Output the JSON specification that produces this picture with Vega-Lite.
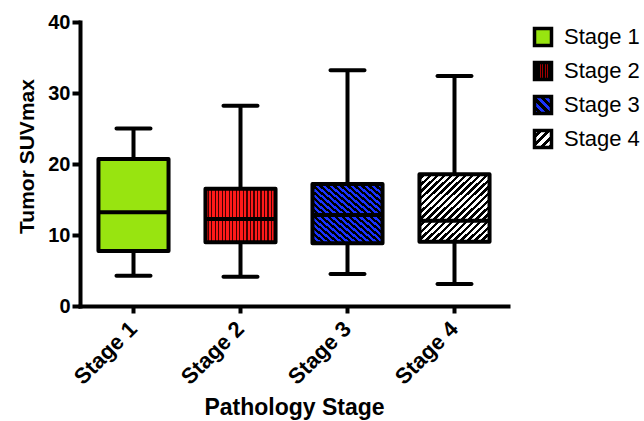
{
  "$schema": "https://vega.github.io/schema/vega-lite/v6.json",
  "width": 428,
  "height": 284,
  "autosize": {"type": "none"},
  "padding": {"left": 80, "top": 22, "right": 136, "bottom": 115},
  "background": "white",
  "config": {
    "view": {"stroke": null},
    "font": "Liberation Sans",
    "axis": {
      "domainColor": "black", "domainWidth": 4, "domainCap": "square",
      "tickColor": "black", "tickWidth": 4, "grid": false,
      "labelColor": "black", "labelFont": "Liberation Sans", "labelFontWeight": "bold", "labelFontSize": 20,
      "titleColor": "black", "titleFont": "Liberation Sans", "titleFontWeight": "bold"
    }
  },
  "data": {
    "values": [
      {"stage": "Stage 1", "min": 4.27, "q1": 7.75, "median": 13.2, "q3": 20.7, "max": 25.0},
      {"stage": "Stage 2", "min": 4.13, "q1": 8.97, "median": 12.25, "q3": 16.5, "max": 28.2},
      {"stage": "Stage 3", "min": 4.5, "q1": 8.83, "median": 12.8, "q3": 17.2, "max": 33.2},
      {"stage": "Stage 4", "min": 3.1, "q1": 9.06, "median": 12.0, "q3": 18.55, "max": 32.4}
    ]
  },
  "encoding": {
    "x": {
      "field": "stage", "type": "nominal",
      "scale": {"domain": ["Stage 1", "Stage 2", "Stage 3", "Stage 4"], "paddingInner": 0, "paddingOuter": 0},
      "axis": {"title": "Pathology Stage", "titleFontSize": 23, "titlePadding": 8, "labelAngle": -45, "labelAlign": "right", "labelBaseline": "middle", "labelFontSize": 22, "labelPadding": 12, "tickSize": 7, "bandPosition": 0.5}
    }
  },
  "layer": [
    {
      "mark": {"type": "rule", "strokeWidth": 4, "color": "black"},
      "encoding": {
        "y": {"field": "min", "type": "quantitative", "title": "Tumor SUVmax", "scale": {"domain": [0, 40], "nice": false},
          "axis": {"values": [0, 10, 20, 30, 40], "tickSize": 8, "labelPadding": 2, "titleFontSize": 21, "titlePadding": 10, "titleY": 134}},
        "y2": {"field": "max"}
      }
    },
    {
      "mark": {"type": "tick", "size": 38, "thickness": 4, "color": "black", "opacity": 1, "cornerRadius": 2},
      "encoding": {"y": {"field": "min", "type": "quantitative", "title": "Tumor SUVmax"}}
    },
    {
      "mark": {"type": "tick", "size": 38, "thickness": 4, "color": "black", "opacity": 1, "cornerRadius": 2},
      "encoding": {"y": {"field": "max", "type": "quantitative", "title": "Tumor SUVmax"}}
    },
    {
      "transform": [{"filter": "datum.stage === 'Stage 1'"}],
      "mark": {"type": "bar", "width": {"band": 0.655}, "stroke": "black", "strokeWidth": 4, "strokeJoin": "round", "opacity": 1, "fill": "#98e410"},
      "encoding": {"y": {"field": "q1", "type": "quantitative", "title": "Tumor SUVmax"}, "y2": {"field": "q3"}}
    },
    {
      "transform": [{"filter": "datum.stage === 'Stage 2'"}],
      "mark": {"type": "bar", "width": {"band": 0.655}, "stroke": "black", "strokeWidth": 4, "strokeJoin": "round", "opacity": 1,
        "fill": {"gradient": "linear", "x1": 0, "y1": 0, "x2": 1, "y2": 0, "stops": [
          {"offset": 0, "color": "#ff1a1a"}, {"offset": 0.035, "color": "#ff1a1a"}, {"offset": 0.035, "color": "#400000"}, {"offset": 0.05, "color": "#400000"},
          {"offset": 0.05, "color": "#ff1a1a"}, {"offset": 0.085, "color": "#ff1a1a"}, {"offset": 0.085, "color": "#400000"}, {"offset": 0.1, "color": "#400000"},
          {"offset": 0.1, "color": "#ff1a1a"}, {"offset": 0.135, "color": "#ff1a1a"}, {"offset": 0.135, "color": "#400000"}, {"offset": 0.15, "color": "#400000"},
          {"offset": 0.15, "color": "#ff1a1a"}, {"offset": 0.185, "color": "#ff1a1a"}, {"offset": 0.185, "color": "#400000"}, {"offset": 0.2, "color": "#400000"},
          {"offset": 0.2, "color": "#ff1a1a"}, {"offset": 0.235, "color": "#ff1a1a"}, {"offset": 0.235, "color": "#400000"}, {"offset": 0.25, "color": "#400000"},
          {"offset": 0.25, "color": "#ff1a1a"}, {"offset": 0.285, "color": "#ff1a1a"}, {"offset": 0.285, "color": "#400000"}, {"offset": 0.3, "color": "#400000"},
          {"offset": 0.3, "color": "#ff1a1a"}, {"offset": 0.335, "color": "#ff1a1a"}, {"offset": 0.335, "color": "#400000"}, {"offset": 0.35, "color": "#400000"},
          {"offset": 0.35, "color": "#ff1a1a"}, {"offset": 0.385, "color": "#ff1a1a"}, {"offset": 0.385, "color": "#400000"}, {"offset": 0.4, "color": "#400000"},
          {"offset": 0.4, "color": "#ff1a1a"}, {"offset": 0.435, "color": "#ff1a1a"}, {"offset": 0.435, "color": "#400000"}, {"offset": 0.45, "color": "#400000"},
          {"offset": 0.45, "color": "#ff1a1a"}, {"offset": 0.485, "color": "#ff1a1a"}, {"offset": 0.485, "color": "#400000"}, {"offset": 0.5, "color": "#400000"},
          {"offset": 0.5, "color": "#ff1a1a"}, {"offset": 0.535, "color": "#ff1a1a"}, {"offset": 0.535, "color": "#400000"}, {"offset": 0.55, "color": "#400000"},
          {"offset": 0.55, "color": "#ff1a1a"}, {"offset": 0.585, "color": "#ff1a1a"}, {"offset": 0.585, "color": "#400000"}, {"offset": 0.6, "color": "#400000"},
          {"offset": 0.6, "color": "#ff1a1a"}, {"offset": 0.635, "color": "#ff1a1a"}, {"offset": 0.635, "color": "#400000"}, {"offset": 0.65, "color": "#400000"},
          {"offset": 0.65, "color": "#ff1a1a"}, {"offset": 0.685, "color": "#ff1a1a"}, {"offset": 0.685, "color": "#400000"}, {"offset": 0.7, "color": "#400000"},
          {"offset": 0.7, "color": "#ff1a1a"}, {"offset": 0.735, "color": "#ff1a1a"}, {"offset": 0.735, "color": "#400000"}, {"offset": 0.75, "color": "#400000"},
          {"offset": 0.75, "color": "#ff1a1a"}, {"offset": 0.785, "color": "#ff1a1a"}, {"offset": 0.785, "color": "#400000"}, {"offset": 0.8, "color": "#400000"},
          {"offset": 0.8, "color": "#ff1a1a"}, {"offset": 0.835, "color": "#ff1a1a"}, {"offset": 0.835, "color": "#400000"}, {"offset": 0.85, "color": "#400000"},
          {"offset": 0.85, "color": "#ff1a1a"}, {"offset": 0.885, "color": "#ff1a1a"}, {"offset": 0.885, "color": "#400000"}, {"offset": 0.9, "color": "#400000"},
          {"offset": 0.9, "color": "#ff1a1a"}, {"offset": 0.935, "color": "#ff1a1a"}, {"offset": 0.935, "color": "#400000"}, {"offset": 0.95, "color": "#400000"},
          {"offset": 0.95, "color": "#ff1a1a"}, {"offset": 0.985, "color": "#ff1a1a"}, {"offset": 0.985, "color": "#400000"}, {"offset": 1, "color": "#400000"}
        ]}},
      "encoding": {"y": {"field": "q1", "type": "quantitative", "title": "Tumor SUVmax"}, "y2": {"field": "q3"}}
    },
    {
      "transform": [{"filter": "datum.stage === 'Stage 3'"}],
      "mark": {"type": "bar", "width": {"band": 0.655}, "stroke": "black", "strokeWidth": 4, "strokeJoin": "round", "opacity": 1,
        "fill": {"gradient": "linear", "x1": 0, "y1": 1, "x2": 1, "y2": 0, "stops": [
          {"offset": 0, "color": "#1a33ff"}, {"offset": 0.025, "color": "#1a33ff"}, {"offset": 0.025, "color": "#000000"}, {"offset": 0.05, "color": "#000000"},
          {"offset": 0.05, "color": "#1a33ff"}, {"offset": 0.075, "color": "#1a33ff"}, {"offset": 0.075, "color": "#000000"}, {"offset": 0.1, "color": "#000000"},
          {"offset": 0.1, "color": "#1a33ff"}, {"offset": 0.125, "color": "#1a33ff"}, {"offset": 0.125, "color": "#000000"}, {"offset": 0.15, "color": "#000000"},
          {"offset": 0.15, "color": "#1a33ff"}, {"offset": 0.175, "color": "#1a33ff"}, {"offset": 0.175, "color": "#000000"}, {"offset": 0.2, "color": "#000000"},
          {"offset": 0.2, "color": "#1a33ff"}, {"offset": 0.225, "color": "#1a33ff"}, {"offset": 0.225, "color": "#000000"}, {"offset": 0.25, "color": "#000000"},
          {"offset": 0.25, "color": "#1a33ff"}, {"offset": 0.275, "color": "#1a33ff"}, {"offset": 0.275, "color": "#000000"}, {"offset": 0.3, "color": "#000000"},
          {"offset": 0.3, "color": "#1a33ff"}, {"offset": 0.325, "color": "#1a33ff"}, {"offset": 0.325, "color": "#000000"}, {"offset": 0.35, "color": "#000000"},
          {"offset": 0.35, "color": "#1a33ff"}, {"offset": 0.375, "color": "#1a33ff"}, {"offset": 0.375, "color": "#000000"}, {"offset": 0.4, "color": "#000000"},
          {"offset": 0.4, "color": "#1a33ff"}, {"offset": 0.425, "color": "#1a33ff"}, {"offset": 0.425, "color": "#000000"}, {"offset": 0.45, "color": "#000000"},
          {"offset": 0.45, "color": "#1a33ff"}, {"offset": 0.475, "color": "#1a33ff"}, {"offset": 0.475, "color": "#000000"}, {"offset": 0.5, "color": "#000000"},
          {"offset": 0.5, "color": "#1a33ff"}, {"offset": 0.525, "color": "#1a33ff"}, {"offset": 0.525, "color": "#000000"}, {"offset": 0.55, "color": "#000000"},
          {"offset": 0.55, "color": "#1a33ff"}, {"offset": 0.575, "color": "#1a33ff"}, {"offset": 0.575, "color": "#000000"}, {"offset": 0.6, "color": "#000000"},
          {"offset": 0.6, "color": "#1a33ff"}, {"offset": 0.625, "color": "#1a33ff"}, {"offset": 0.625, "color": "#000000"}, {"offset": 0.65, "color": "#000000"},
          {"offset": 0.65, "color": "#1a33ff"}, {"offset": 0.675, "color": "#1a33ff"}, {"offset": 0.675, "color": "#000000"}, {"offset": 0.7, "color": "#000000"},
          {"offset": 0.7, "color": "#1a33ff"}, {"offset": 0.725, "color": "#1a33ff"}, {"offset": 0.725, "color": "#000000"}, {"offset": 0.75, "color": "#000000"},
          {"offset": 0.75, "color": "#1a33ff"}, {"offset": 0.775, "color": "#1a33ff"}, {"offset": 0.775, "color": "#000000"}, {"offset": 0.8, "color": "#000000"},
          {"offset": 0.8, "color": "#1a33ff"}, {"offset": 0.825, "color": "#1a33ff"}, {"offset": 0.825, "color": "#000000"}, {"offset": 0.85, "color": "#000000"},
          {"offset": 0.85, "color": "#1a33ff"}, {"offset": 0.875, "color": "#1a33ff"}, {"offset": 0.875, "color": "#000000"}, {"offset": 0.9, "color": "#000000"},
          {"offset": 0.9, "color": "#1a33ff"}, {"offset": 0.925, "color": "#1a33ff"}, {"offset": 0.925, "color": "#000000"}, {"offset": 0.95, "color": "#000000"},
          {"offset": 0.95, "color": "#1a33ff"}, {"offset": 0.975, "color": "#1a33ff"}, {"offset": 0.975, "color": "#000000"}, {"offset": 1, "color": "#000000"}
        ]}},
      "encoding": {"y": {"field": "q1", "type": "quantitative", "title": "Tumor SUVmax"}, "y2": {"field": "q3"}}
    },
    {
      "transform": [{"filter": "datum.stage === 'Stage 4'"}],
      "mark": {"type": "bar", "width": {"band": 0.655}, "stroke": "black", "strokeWidth": 4, "strokeJoin": "round", "opacity": 1,
        "fill": {"gradient": "linear", "x1": 0, "y1": 0, "x2": 1, "y2": 1, "stops": [
          {"offset": 0, "color": "#ffffff"}, {"offset": 0.025, "color": "#ffffff"}, {"offset": 0.025, "color": "#000000"}, {"offset": 0.05, "color": "#000000"},
          {"offset": 0.05, "color": "#ffffff"}, {"offset": 0.075, "color": "#ffffff"}, {"offset": 0.075, "color": "#000000"}, {"offset": 0.1, "color": "#000000"},
          {"offset": 0.1, "color": "#ffffff"}, {"offset": 0.125, "color": "#ffffff"}, {"offset": 0.125, "color": "#000000"}, {"offset": 0.15, "color": "#000000"},
          {"offset": 0.15, "color": "#ffffff"}, {"offset": 0.175, "color": "#ffffff"}, {"offset": 0.175, "color": "#000000"}, {"offset": 0.2, "color": "#000000"},
          {"offset": 0.2, "color": "#ffffff"}, {"offset": 0.225, "color": "#ffffff"}, {"offset": 0.225, "color": "#000000"}, {"offset": 0.25, "color": "#000000"},
          {"offset": 0.25, "color": "#ffffff"}, {"offset": 0.275, "color": "#ffffff"}, {"offset": 0.275, "color": "#000000"}, {"offset": 0.3, "color": "#000000"},
          {"offset": 0.3, "color": "#ffffff"}, {"offset": 0.325, "color": "#ffffff"}, {"offset": 0.325, "color": "#000000"}, {"offset": 0.35, "color": "#000000"},
          {"offset": 0.35, "color": "#ffffff"}, {"offset": 0.375, "color": "#ffffff"}, {"offset": 0.375, "color": "#000000"}, {"offset": 0.4, "color": "#000000"},
          {"offset": 0.4, "color": "#ffffff"}, {"offset": 0.425, "color": "#ffffff"}, {"offset": 0.425, "color": "#000000"}, {"offset": 0.45, "color": "#000000"},
          {"offset": 0.45, "color": "#ffffff"}, {"offset": 0.475, "color": "#ffffff"}, {"offset": 0.475, "color": "#000000"}, {"offset": 0.5, "color": "#000000"},
          {"offset": 0.5, "color": "#ffffff"}, {"offset": 0.525, "color": "#ffffff"}, {"offset": 0.525, "color": "#000000"}, {"offset": 0.55, "color": "#000000"},
          {"offset": 0.55, "color": "#ffffff"}, {"offset": 0.575, "color": "#ffffff"}, {"offset": 0.575, "color": "#000000"}, {"offset": 0.6, "color": "#000000"},
          {"offset": 0.6, "color": "#ffffff"}, {"offset": 0.625, "color": "#ffffff"}, {"offset": 0.625, "color": "#000000"}, {"offset": 0.65, "color": "#000000"},
          {"offset": 0.65, "color": "#ffffff"}, {"offset": 0.675, "color": "#ffffff"}, {"offset": 0.675, "color": "#000000"}, {"offset": 0.7, "color": "#000000"},
          {"offset": 0.7, "color": "#ffffff"}, {"offset": 0.725, "color": "#ffffff"}, {"offset": 0.725, "color": "#000000"}, {"offset": 0.75, "color": "#000000"},
          {"offset": 0.75, "color": "#ffffff"}, {"offset": 0.775, "color": "#ffffff"}, {"offset": 0.775, "color": "#000000"}, {"offset": 0.8, "color": "#000000"},
          {"offset": 0.8, "color": "#ffffff"}, {"offset": 0.825, "color": "#ffffff"}, {"offset": 0.825, "color": "#000000"}, {"offset": 0.85, "color": "#000000"},
          {"offset": 0.85, "color": "#ffffff"}, {"offset": 0.875, "color": "#ffffff"}, {"offset": 0.875, "color": "#000000"}, {"offset": 0.9, "color": "#000000"},
          {"offset": 0.9, "color": "#ffffff"}, {"offset": 0.925, "color": "#ffffff"}, {"offset": 0.925, "color": "#000000"}, {"offset": 0.95, "color": "#000000"},
          {"offset": 0.95, "color": "#ffffff"}, {"offset": 0.975, "color": "#ffffff"}, {"offset": 0.975, "color": "#000000"}, {"offset": 1, "color": "#000000"}
        ]}},
      "encoding": {"y": {"field": "q1", "type": "quantitative", "title": "Tumor SUVmax"}, "y2": {"field": "q3"}}
    },
    {
      "mark": {"type": "tick", "size": 70, "thickness": 4, "color": "black", "opacity": 1},
      "encoding": {"y": {"field": "median", "type": "quantitative", "title": "Tumor SUVmax"}}
    },
    {
      "transform": [{"filter": "datum.min < 0"}],
      "mark": {"type": "point", "shape": "square", "filled": true, "opacity": 1, "stroke": "black", "strokeWidth": 3.5},
      "encoding": {
        "y": {"field": "median", "type": "quantitative", "title": "Tumor SUVmax"},
        "fill": {
          "field": "stage", "type": "nominal",
          "scale": {
            "domain": ["Stage 1", "Stage 2", "Stage 3", "Stage 4"],
            "range": [
              "#98e410",
              {"expr": "{gradient:'linear',x1:0,y1:0,x2:1,y2:0,stops:[{offset:0,color:'#000000'},{offset:0.3,color:'#000000'},{offset:0.3,color:'#a00000'},{offset:0.36,color:'#a00000'},{offset:0.36,color:'#000000'},{offset:0.45,color:'#000000'},{offset:0.45,color:'#a00000'},{offset:0.51,color:'#a00000'},{offset:0.51,color:'#000000'},{offset:0.6,color:'#000000'},{offset:0.6,color:'#a00000'},{offset:0.66,color:'#a00000'},{offset:0.66,color:'#000000'},{offset:0.75,color:'#000000'},{offset:0.75,color:'#a00000'},{offset:0.81,color:'#a00000'},{offset:0.81,color:'#000000'},{offset:1,color:'#000000'}]}"},
              {"expr": "{gradient:'linear',x1:0,y1:1,x2:1,y2:0,stops:[{offset:0,color:'#1a33ff'},{offset:0.125,color:'#1a33ff'},{offset:0.125,color:'#000000'},{offset:0.25,color:'#000000'},{offset:0.25,color:'#1a33ff'},{offset:0.375,color:'#1a33ff'},{offset:0.375,color:'#000000'},{offset:0.5,color:'#000000'},{offset:0.5,color:'#1a33ff'},{offset:0.625,color:'#1a33ff'},{offset:0.625,color:'#000000'},{offset:0.75,color:'#000000'},{offset:0.75,color:'#1a33ff'},{offset:0.875,color:'#1a33ff'},{offset:0.875,color:'#000000'},{offset:1,color:'#000000'}]}"},
              {"expr": "{gradient:'linear',x1:0,y1:0,x2:1,y2:1,stops:[{offset:0,color:'#ffffff'},{offset:0.125,color:'#ffffff'},{offset:0.125,color:'#000000'},{offset:0.25,color:'#000000'},{offset:0.25,color:'#ffffff'},{offset:0.375,color:'#ffffff'},{offset:0.375,color:'#000000'},{offset:0.5,color:'#000000'},{offset:0.5,color:'#ffffff'},{offset:0.625,color:'#ffffff'},{offset:0.625,color:'#000000'},{offset:0.75,color:'#000000'},{offset:0.75,color:'#ffffff'},{offset:0.875,color:'#ffffff'},{offset:0.875,color:'#000000'},{offset:1,color:'#000000'}]}"}
            ]
          },
          "legend": {
            "orient": "none", "legendX": 452, "legendY": 4, "title": null,
            "symbolType": "square", "symbolSize": 289, "symbolStrokeColor": "black", "symbolStrokeWidth": 3.5, "symbolOpacity": 1,
            "labelFont": "Liberation Sans", "labelFontSize": 22, "labelColor": "black", "labelOffset": 10, "rowPadding": 2
          }
        }
      }
    }
  ]
}
